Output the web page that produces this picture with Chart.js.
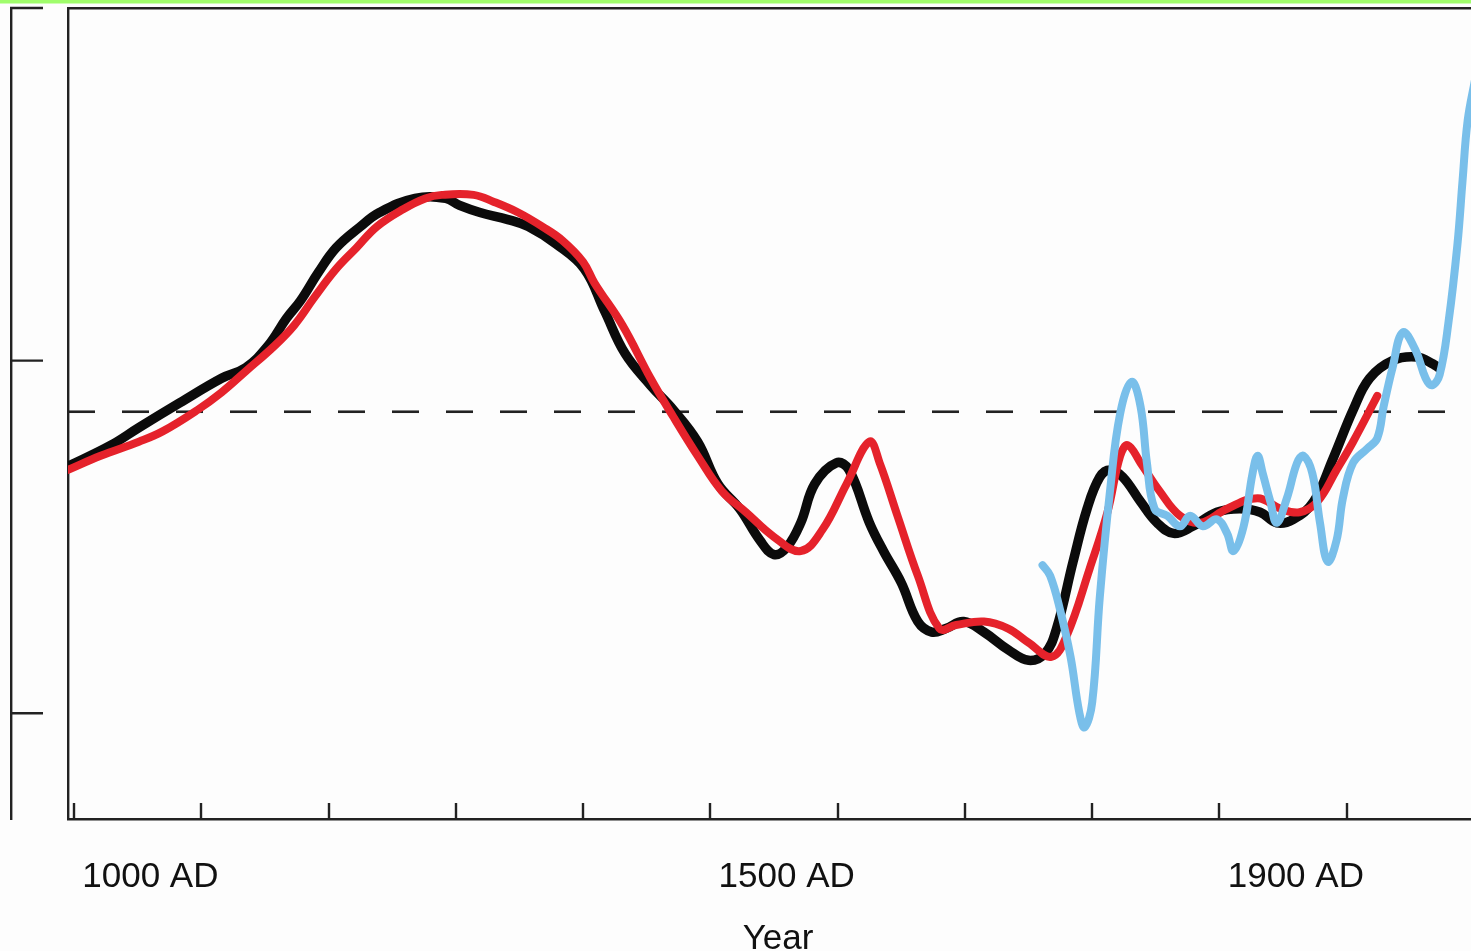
<!DOCTYPE html>
<html>
<head>
<meta charset="utf-8">
<title>Temperature over the last millennium</title>
<script src="https://cdn.jsdelivr.net/npm/chart.js@4.4.1/dist/chart.umd.min.js"></script>
<style>
  html, body { margin: 0; padding: 0; background: #fdfdfd; overflow: hidden; }
  canvas { display: block; }
</style>
</head>
<body>
<canvas id="chart" width="1488" height="960"></canvas>
<script>
// ---- axis ranges ----
const xMin = 935.3, xMax = 2051;          // years
const yMin = -0.3, yMax = 2.0;            // temperature units
const tickYears = [940, 1040, 1140, 1240, 1340, 1440, 1540, 1640, 1740, 1840, 1940];
const labelYears = [1000, 1500, 1900];

// ---- reference level (dashed) ----
const baseline = 0.855;
const baselineYears = [935.3, 2018];

// ---- reconstruction, black ----
const blackYears = [935.3, 969, 991, 1023, 1056, 1075, 1092, 1107, 1118, 1132, 1146, 1165, 1180, 1208, 1232, 1243, 1259, 1281, 1297, 1319,
  1341, 1357, 1373, 1393, 1411, 1430, 1446, 1463, 1479, 1490, 1500, 1511, 1522, 1539, 1549, 1565, 1576, 1590, 1603, 1614,
  1625, 1639, 1655, 1674, 1690, 1703, 1712, 1725, 1736, 1746, 1754, 1764, 1778, 1791, 1804, 1819, 1838, 1856, 1872, 1885,
  1898, 1914, 1929, 1945, 1958, 1976, 1995, 2008, 2012];
const blackValues = [0.70, 0.76, 0.81, 0.88, 0.95, 0.98, 1.04, 1.12, 1.17, 1.25, 1.32, 1.38, 1.42, 1.46, 1.46, 1.44, 1.42, 1.40, 1.38, 1.33,
  1.26, 1.14, 1.02, 0.93, 0.86, 0.77, 0.65, 0.58, 0.49, 0.45, 0.47, 0.54, 0.65, 0.71, 0.69, 0.54, 0.46, 0.37, 0.26, 0.23,
  0.24, 0.26, 0.23, 0.18, 0.15, 0.17, 0.24, 0.43, 0.58, 0.67, 0.69, 0.67, 0.60, 0.54, 0.51, 0.53, 0.57, 0.58, 0.57, 0.54,
  0.55, 0.60, 0.72, 0.86, 0.95, 1.00, 1.01, 0.99, 0.98];

// ---- reconstruction, red ----
const redYears = [935.3, 961, 991, 1010, 1037, 1056, 1075, 1097, 1113, 1129, 1146, 1162, 1178, 1199, 1216, 1229, 1254, 1270, 1289, 1308,
  1324, 1340, 1349, 1371, 1393, 1411, 1430, 1449, 1468, 1490, 1511, 1528, 1547, 1565, 1573, 1587, 1603, 1620, 1633, 1655,
  1674, 1690, 1708, 1720, 1738, 1752, 1762, 1768, 1778, 1793, 1809, 1825, 1846, 1870, 1888, 1903, 1917, 1932, 1945, 1964];
const redValues = [0.69, 0.73, 0.77, 0.80, 0.86, 0.91, 0.97, 1.04, 1.10, 1.18, 1.26, 1.32, 1.38, 1.43, 1.46, 1.47, 1.47, 1.45, 1.42, 1.38,
  1.34, 1.28, 1.22, 1.10, 0.95, 0.84, 0.73, 0.63, 0.57, 0.50, 0.46, 0.52, 0.65, 0.77, 0.71, 0.56, 0.39, 0.24, 0.25, 0.26,
  0.24, 0.20, 0.16, 0.22, 0.41, 0.57, 0.73, 0.76, 0.71, 0.63, 0.56, 0.54, 0.58, 0.61, 0.58, 0.57, 0.60, 0.69, 0.77, 0.90];

// ---- record, blue ----
const blueYears = [1701, 1707, 1715, 1723, 1730, 1734, 1740, 1746, 1754, 1762, 1771, 1778, 1783, 1789, 1799, 1809, 1817, 1827, 1838, 1846,
  1851, 1859, 1866, 1870, 1874, 1880, 1885, 1893, 1901, 1906, 1913, 1919, 1925, 1932, 1937, 1945, 1956, 1964, 1969, 1976,
  1984, 1994, 2002, 2007, 2013, 2020, 2027, 2031, 2035, 2041];
const blueValues = [0.42, 0.39, 0.29, 0.16, 0.00, -0.04, 0.03, 0.33, 0.63, 0.85, 0.94, 0.87, 0.71, 0.58, 0.56, 0.53, 0.56, 0.53, 0.55, 0.51,
  0.46, 0.53, 0.68, 0.73, 0.68, 0.60, 0.54, 0.61, 0.71, 0.73, 0.68, 0.54, 0.43, 0.49, 0.61, 0.71, 0.75, 0.78, 0.87, 0.98,
  1.08, 1.03, 0.95, 0.93, 0.96, 1.11, 1.33, 1.51, 1.68, 1.80];

const pairs = (xs, ys) => xs.map((x, i) => ({ x: x, y: ys[i] }));

const FONT = "'Liberation Sans', Arial, Helvetica, sans-serif";
const INK = '#222';

// Frame extras: top strip, inward year ticks, outer scale bar
const frameDecor = {
  id: 'frameDecor',
  beforeDraw(chart) {
    const { ctx, width } = chart;
    ctx.save();
    ctx.fillStyle = '#a0fd6c';
    ctx.fillRect(0, 0, width, 3.5);
    ctx.restore();
  },
  afterDraw(chart) {
    const { ctx, chartArea, scales } = chart;
    const xs = scales.x, ys = scales.y;
    ctx.save();
    ctx.strokeStyle = INK;
    ctx.lineWidth = 2.4;
    ctx.lineCap = 'butt';
    ctx.beginPath();
    xs.ticks.forEach(t => {
      const px = Math.round(xs.getPixelForValue(t.value));
      ctx.moveTo(px, chartArea.bottom);
      ctx.lineTo(px, chartArea.bottom - 16);
    });
    const bx = 11.2;
    ctx.moveTo(bx, chartArea.top - 1.2);
    ctx.lineTo(bx, chartArea.bottom + 1);
    ys.ticks.forEach(t => {
      const py = ys.getPixelForValue(t.value);
      ctx.moveTo(bx - 1.2, py);
      ctx.lineTo(43, py);
    });
    ctx.stroke();
    ctx.restore();
  }
};

const hiddenGrid = { display: false, drawTicks: false };

new Chart(document.getElementById('chart'), {
  type: 'line',
  data: {
    datasets: [
      {
        label: 'Reference level',
        data: baselineYears.map(x => ({ x: x, y: baseline })),
        borderColor: INK, borderWidth: 2.6, borderDash: [27, 27],
        borderCapStyle: 'butt', tension: 0, order: 3
      },
      {
        label: 'Reconstruction (black)',
        data: pairs(blackYears, blackValues),
        borderColor: '#0b0b0b', borderWidth: 9.5, order: 2
      },
      {
        label: 'Reconstruction (red)',
        data: pairs(redYears, redValues),
        borderColor: '#e5222b', borderWidth: 8, order: 1
      },
      {
        label: 'Record (blue)',
        data: pairs(blueYears, blueValues),
        borderColor: '#79bfea', borderWidth: 8, order: 0
      }
    ]
  },
  options: {
    responsive: false,
    animation: false,
    events: [],
    layout: { padding: { top: 8, left: 0, right: 0, bottom: 0 } },
    plugins: { legend: { display: false }, tooltip: { enabled: false } },
    elements: {
      point: { radius: 0 },
      line: { tension: 0.4, borderCapStyle: 'round', borderJoinStyle: 'round', fill: false }
    },
    scales: {
      x: {
        type: 'linear', position: 'bottom', min: xMin, max: xMax, weight: 0,
        afterBuildTicks: s => { s.ticks = tickYears.map(v => ({ value: v })); },
        ticks: { display: false },
        grid: hiddenGrid,
        border: { display: true, color: INK, width: 2.4 },
        afterFit: s => { s.height = 0; }
      },
      xLabels: {
        type: 'linear', position: 'bottom', min: xMin, max: xMax, weight: 1,
        afterBuildTicks: s => { s.ticks = labelYears.map(v => ({ value: v })); },
        ticks: {
          autoSkip: false, maxRotation: 0, padding: 37, color: '#111',
          font: { family: FONT, size: 35 },
          callback: v => v + ' AD'
        },
        grid: hiddenGrid,
        border: { display: false },
        title: {
          display: true, text: 'Year', color: '#111',
          font: { family: FONT, size: 35 },
          padding: { top: 0, bottom: 0 }
        },
        afterFit: s => { s.height = 141; }
      },
      xTop: {
        type: 'linear', position: 'top', min: xMin, max: xMax,
        ticks: { display: false },
        grid: hiddenGrid,
        border: { display: true, color: INK, width: 2.4 },
        afterFit: s => { s.height = 0; }
      },
      y: {
        type: 'linear', position: 'left', min: yMin, max: yMax,
        ticks: { display: false, stepSize: 1, includeBounds: false },
        grid: hiddenGrid,
        border: { display: true, color: INK, width: 2.4 },
        afterFit: s => { s.width = 68; }
      }
    }
  },
  plugins: [frameDecor]
});
</script>
</body>
</html>
